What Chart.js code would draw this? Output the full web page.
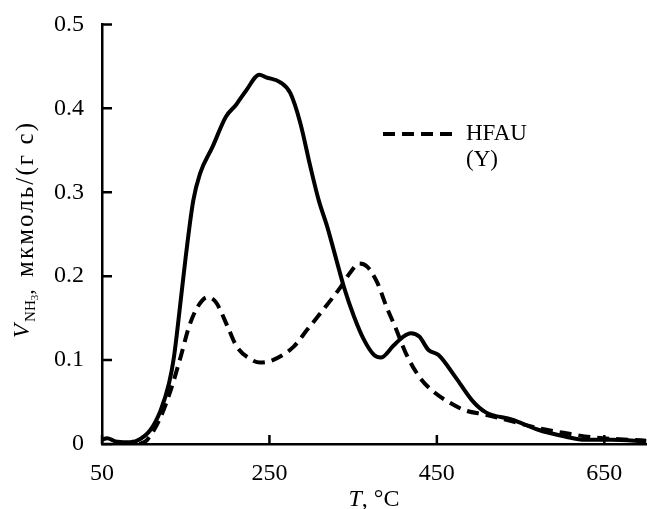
<!DOCTYPE html>
<html>
<head>
<meta charset="utf-8">
<script src="https://cdn.jsdelivr.net/npm/chart.js@4.4.1/dist/chart.umd.min.js"></script>
<style>
  html, body { margin: 0; padding: 0; background: #fff; }
  #wrap { width: 647px; height: 509px; }
</style>
</head>
<body>
<div id="wrap"><canvas id="myChart"></canvas></div>
<script>
// temperature (°C) and NH3 desorption rate
const tempSolid = [50, 56, 66, 80, 92, 108, 120, 130, 136, 144, 150, 159, 167, 182, 198, 210, 222, 238, 246, 263, 275, 287, 299, 309, 319, 329, 339, 351, 363, 375, 383, 398, 410, 419, 429, 440, 452, 472, 492, 508, 540, 571, 603, 627, 658, 700];
const rateSolid = [0.005, 0.007, 0.003, 0.002, 0.004, 0.017, 0.04, 0.072, 0.104, 0.171, 0.223, 0.29, 0.322, 0.354, 0.39, 0.404, 0.421, 0.44, 0.437, 0.431, 0.418, 0.382, 0.33, 0.29, 0.259, 0.223, 0.187, 0.152, 0.124, 0.106, 0.103, 0.117, 0.128, 0.132, 0.128, 0.112, 0.106, 0.08, 0.052, 0.038, 0.029, 0.017, 0.009, 0.005, 0.005, 0.003];

const tempDash = [95, 104, 120, 132, 144, 154, 164, 176, 186, 200, 211, 226, 239, 254, 279, 295, 311, 335, 347, 357, 367, 379, 390, 400, 413, 429, 444, 464, 484, 508, 540, 571, 603, 635, 682, 700];
const rateDash = [0, 0.005, 0.032, 0.064, 0.104, 0.14, 0.163, 0.175, 0.169, 0.14, 0.116, 0.102, 0.097, 0.1, 0.116, 0.136, 0.156, 0.187, 0.205, 0.215, 0.211, 0.192, 0.163, 0.14, 0.108, 0.08, 0.064, 0.05, 0.04, 0.035, 0.027, 0.019, 0.013, 0.008, 0.005, 0.004];

const xTicks = [50, 250, 450, 650];
const yTicks = [0, 0.1, 0.2, 0.3, 0.4, 0.5];
const yLabels = ['0', '0.1', '0.2', '0.3', '0.4', '0.5'];
const legendLines = ['HFAU', '(Y)'];

const serif = '"Liberation Serif", "Times New Roman", serif';

function toPoints(xs, ys) {
    return xs.map((x, i) => ({ x: x, y: ys[i] }));
}

// inner tick marks, axis titles and the legend
const decor = {
    id: 'decor',
    afterDraw(chart) {
        const c = chart.ctx;
        const a = chart.chartArea;
        const xs = chart.scales.x, ys = chart.scales.y;
        c.save();
        c.strokeStyle = '#000';
        c.lineWidth = 2.5;
        c.beginPath();
        yTicks.forEach(v => {
            const y = ys.getPixelForValue(v);
            c.moveTo(a.left, y); c.lineTo(a.left + 10, y);
        });
        xTicks.forEach(v => {
            const x = xs.getPixelForValue(v);
            c.moveTo(x, a.bottom); c.lineTo(x, a.bottom - 9);
        });
        c.stroke();

        c.fillStyle = '#000';
        c.textBaseline = 'alphabetic';
        c.textAlign = 'left';

        // x title: T, °C
        c.font = 'italic 24px ' + serif;
        const wT = c.measureText('T').width;
        c.font = '24px ' + serif;
        const wRest = c.measureText(', °C').width;
        let x0 = 374 - (wT + wRest) / 2;
        c.font = 'italic 24px ' + serif;
        c.fillText('T', x0, 506);
        c.font = '24px ' + serif;
        c.fillText(', °C', x0 + wT, 506);

        // y title: V_NH3, мкмоль/(г с)
        c.save();
        c.translate(33, 338);
        c.rotate(-Math.PI / 2);
        let u = 0;
        c.font = 'italic 23px ' + serif;
        c.fillText('V', u, -4);
        u += c.measureText('V').width + 2;
        c.font = '15px ' + serif;
        c.fillText('NH', u, 2);
        u += c.measureText('NH').width;
        c.font = '11px ' + serif;
        c.fillText('3', u, 5);
        u += c.measureText('3').width;
        c.font = '22px ' + serif;
        c.fillText(',', u, 0);
        c.font = '25px ' + serif;
        const unit = 'мкмоль/(г с)';
        const wu = c.measureText(unit).width;
        c.letterSpacing = Math.max(0, (154 - wu) / (unit.length - 1)) + 'px';
        c.fillText(unit, 61, 0);
        c.letterSpacing = '0px';
        c.restore();

        // legend for the dashed series
        const ds = chart.data.datasets[1];
        c.save();
        c.strokeStyle = ds.borderColor;
        c.lineWidth = ds.borderWidth;
        c.setLineDash(ds.borderDash);
        c.beginPath();
        c.moveTo(383, 134); c.lineTo(459, 134);
        c.stroke();
        c.restore();
        c.font = '23px ' + serif;
        c.fillText(legendLines[0], 466, 140);
        c.fillText(legendLines[1], 466, 166);
        c.restore();
    }
};

new Chart(document.getElementById('myChart'), {
    type: 'line',
    data: {
        datasets: [
            {
                label: '',
                data: toPoints(tempSolid, rateSolid),
                borderColor: '#000',
                borderWidth: 4,
                pointRadius: 0,
                cubicInterpolationMode: 'monotone'
            },
            {
                label: 'HFAU (Y)',
                data: toPoints(tempDash, rateDash),
                borderColor: '#000',
                borderWidth: 4,
                borderDash: [12, 7],
                borderCapStyle: 'butt',
                pointRadius: 0,
                cubicInterpolationMode: 'monotone'
            }
        ]
    },
    options: {
        responsive: true,
        maintainAspectRatio: false,
        animation: false,
        layout: { padding: { top: 24, right: 0, left: 0, bottom: 0 } },
        plugins: {
            legend: { display: false },
            tooltip: { enabled: false }
        },
        scales: {
            x: {
                type: 'linear',
                min: 50,
                max: 701,
                afterBuildTicks: s => { s.ticks = xTicks.map(v => ({ value: v })); },
                afterFit: s => { s.height = 65; },
                grid: { display: false },
                border: { display: true, color: '#000', width: 2.5 },
                ticks: {
                    color: '#000',
                    font: { family: serif, size: 24 },
                    padding: 7,
                    maxRotation: 0,
                    autoSkip: false,
                    callback: v => String(v)
                }
            },
            y: {
                min: 0,
                max: 0.5,
                afterBuildTicks: s => { s.ticks = yTicks.map(v => ({ value: v })); },
                afterFit: s => { s.width = 102; },
                grid: { display: false },
                border: { display: true, color: '#000', width: 2.5 },
                ticks: {
                    color: '#000',
                    font: { family: serif, size: 24 },
                    padding: 10,
                    autoSkip: false,
                    callback: (v, i) => yLabels[i]
                }
            }
        }
    },
    plugins: [decor]
});
</script>
</body>
</html>
